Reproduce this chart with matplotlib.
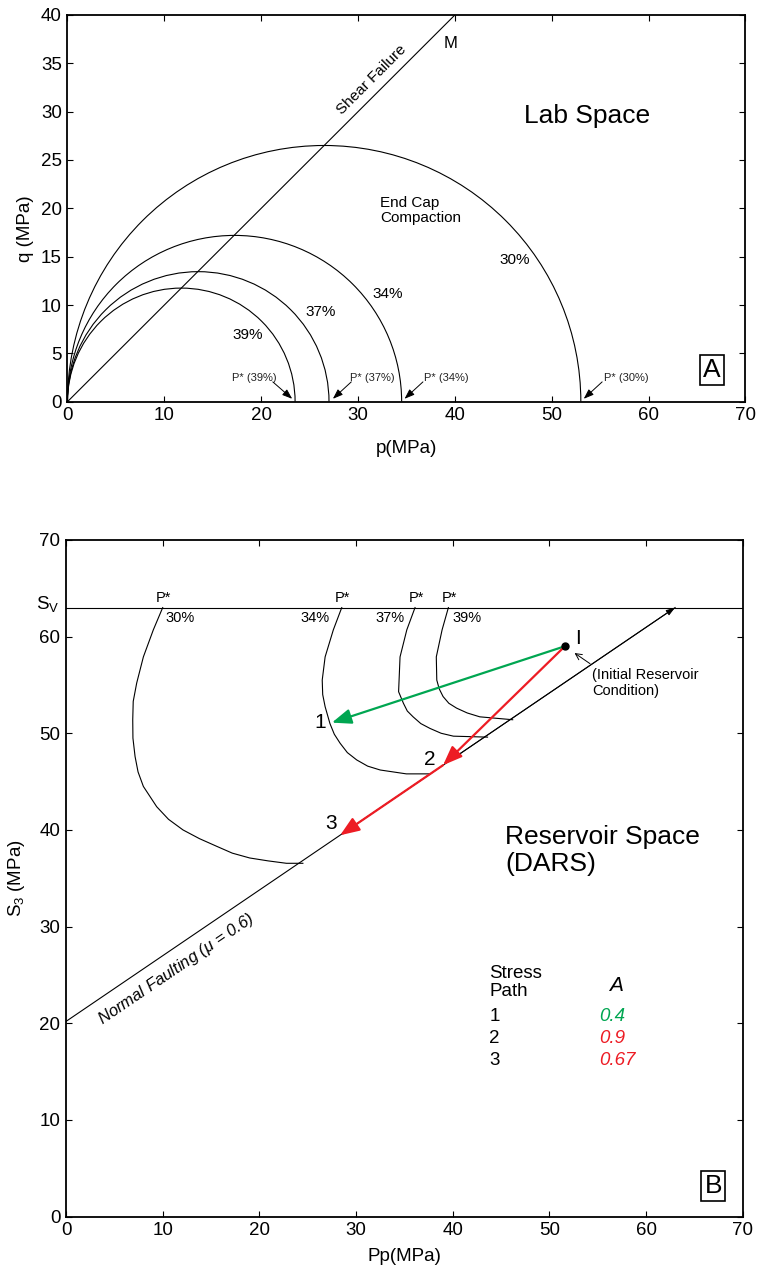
import numpy as np
import matplotlib
matplotlib.use('Agg')
import matplotlib.pyplot as plt
from matplotlib.patches import Arc, FancyArrowPatch

plt.rcParams['font.family'] = ['Liberation Sans', 'DejaVu Sans']
plt.rcParams['mathtext.fontset'] = 'custom'
plt.rcParams['mathtext.rm'] = 'Liberation Sans'
plt.rcParams['mathtext.it'] = 'Liberation Sans:italic'

# --- lab space: end caps (p*, peak q) per porosity, shear failure slope ---
porosity = ['39%', '37%', '34%', '30%']
p_star = [23.5, 27.0, 34.5, 53.0]
q_peak = [11.75, 13.45, 17.2, 26.5]
shear_M = 1.0

# --- reservoir space ---
SV = 63.0
MU = 0.6

cap_30_pp = [10.0, 9.03, 8.0, 7.31, 6.95, 6.9, 6.92, 7.14, 7.45, 8.0, 9.38, 10.6, 12.1,
             13.8, 15.6, 17.2, 19.0, 20.9, 22.8, 24.5]
cap_30_s3 = [63.0, 60.7, 57.9, 55.2, 53.3, 51.4, 49.5, 47.6, 46.0, 44.5, 42.4, 41.1, 40.0,
             39.1, 38.3, 37.6, 37.1, 36.8, 36.55, 36.55]
cap_34_pp = [28.52, 27.65, 26.8, 26.5, 26.55, 26.8, 27.3, 27.75, 28.35, 29.1, 30.07, 31.2,
             32.5, 35.2, 37.7]
cap_34_s3 = [63.0, 60.7, 57.9, 55.5, 54.0, 52.75, 51.0, 49.9, 48.97, 48.0, 47.24, 46.6,
             46.2, 45.8, 45.8]
cap_37_pp = [36.1, 35.25, 34.55, 34.45, 34.4, 34.9, 35.3, 35.9, 36.7, 37.65, 38.8, 40.07, 43.6]
cap_37_s3 = [63.0, 60.7, 57.9, 55.5, 54.3, 53.1, 52.3, 51.7, 51.0, 50.5, 50.0, 49.7, 49.6]
cap_39_pp = [39.55, 38.9, 38.3, 38.35, 38.6, 39.0, 39.6, 40.4, 41.5, 42.8, 46.2]
cap_39_s3 = [63.0, 60.7, 57.9, 55.5, 54.6, 53.8, 53.1, 52.6, 52.1, 51.7, 51.4]

init_pp, init_s3 = 51.6, 59.0
path_ids = ['1', '2', '3']
path_end_pp = [27.5, 39.0, 28.35]
path_end_s3 = [51.1, 46.7, 39.45]
path_A = ['0.4', '0.9', '0.67']
green, red = '#00A651', '#ED1C24'
path_colors = [green, red, red]

TICK_FS = 13.5


def style_axes(ax):
    for s in ax.spines.values():
        s.set_linewidth(1.3)
    ax.tick_params(direction='in', top=True, right=True, length=4.5, width=0.8,
                   labelsize=TICK_FS, pad=4)


def arrow(ax, start, end, color='k', lw=0.8, style='-|>', scale=10):
    ax.add_patch(FancyArrowPatch(start, end, arrowstyle=style, color=color, lw=lw,
                                 mutation_scale=scale, shrinkA=0, shrinkB=0, zorder=4))


fig = plt.figure(figsize=(7.59, 12.68), dpi=100)

### PANEL A ###
axA = fig.add_axes([0.0889, 0.6832, 0.8933, 0.305])
for ps, qp in zip(p_star, q_peak):
    axA.add_patch(Arc((ps / 2, 0), ps, 2 * qp, theta1=0, theta2=180, lw=0.8, color='k'))
p_line = np.array([0, 40])
axA.plot(p_line, shear_M * p_line, color='k', lw=0.8)

axA.text(31.4, 33.3, 'Shear Failure', rotation=45, fontsize=11, ha='center', va='center',
         rotation_mode='anchor')
axA.text(39.6, 37.0, 'M', fontsize=12, ha='center', va='center')
axA.text(53.6, 29.6, 'Lab Space', fontsize=19, ha='center', va='center')
axA.text(32.3, 19.8, 'End Cap\nCompaction', fontsize=11, ha='left', va='center', linespacing=1.1)

pct_pos = [(18.6, 6.9), (26.1, 9.3), (33.1, 11.1), (46.2, 14.7)]
for lab, (x, y) in zip(porosity, pct_pos):
    axA.text(x, y, lab, fontsize=11, ha='center', va='center')

# P* callouts: label centre, arrow tail, arrow tip offset from p*
pstar_text_x = [19.3, 31.5, 39.1, 57.7]
pstar_tail = [(21.2, 2.05), (29.3, 2.05), (36.7, 2.05), (55.2, 2.05)]
tip_dx = [-0.3, 0.4, 0.3, 0.3]
for lab, tx, tail, ps, dx in zip(porosity, pstar_text_x, pstar_tail, p_star, tip_dx):
    axA.text(tx, 2.5, f'P* ({lab})', fontsize=8, ha='center', va='center', color='#222222')
    arrow(axA, tail, (ps + dx, 0.3), lw=0.7, style='-|>,head_length=0.6,head_width=0.22', scale=10)

axA.text(66.5, 3.3, 'A', fontsize=19, ha='center', va='center',
         bbox=dict(boxstyle='square,pad=0.12', fc='white', ec='k', lw=1.2))

axA.set_xlim(0, 70)
axA.set_ylim(0, 40)
axA.set_xticks(np.arange(0, 71, 10))
axA.set_yticks(np.arange(0, 41, 5))
style_axes(axA)
axA.set_xlabel('p(MPa)', fontsize=TICK_FS)
axA.set_ylabel('q (MPa)', fontsize=TICK_FS)
axA.xaxis.set_label_coords(0.5, -0.10)
axA.yaxis.set_label_coords(-0.05, 0.447)

### PANEL B ###
axB = fig.add_axes([0.0870, 0.0405, 0.8916, 0.5337])
for pp, s3 in [(cap_30_pp, cap_30_s3), (cap_34_pp, cap_34_s3),
               (cap_37_pp, cap_37_s3), (cap_39_pp, cap_39_s3)]:
    axB.plot(pp, s3, color='k', lw=0.8)

axB.axhline(SV, color='k', lw=0.8)

# normal faulting limit: S3 = Sv/k + Pp(1 - 1/k)
k = (np.sqrt(MU ** 2 + 1) + MU) ** 2
pp_f = np.array([0, SV])
s3_f = SV / k + pp_f * (1 - 1 / k)
axB.plot(pp_f, s3_f, color='k', lw=0.8)
arrow(axB, (39.9, SV / k + 39.9 * (1 - 1 / k)), (SV, SV), lw=0.7,
      style='<|-|>,head_length=0.6,head_width=0.2', scale=9)

# stress paths
starts = [(init_pp, init_s3), (init_pp, init_s3), (path_end_pp[1], path_end_s3[1])]
for st, ex, ey, col in zip(starts, path_end_pp, path_end_s3, path_colors):
    arrow(axB, st, (ex, ey), color=col, lw=1.6,
          style='-|>,head_length=0.9,head_width=0.35', scale=13)
axB.plot(init_pp, init_s3, 'o', color='k', ms=5, zorder=5)
axB.text(init_pp + 1.4, init_s3 + 0.8, 'I', fontsize=15, ha='center', va='center')

num_pos = [(26.3, 51.1), (37.65, 47.3), (27.4, 40.7)]
for lab, (x, y) in zip(path_ids, num_pos):
    axB.text(x, y, lab, fontsize=15, ha='center', va='center')

arrow(axB, (54.2, 57.2), (52.6, 58.3), lw=0.7, style='->,head_length=0.5,head_width=0.25', scale=9)
axB.text(54.4, 55.2, '(Initial Reservoir\nCondition)', fontsize=10.5, ha='left', va='center',
         linespacing=1.15)

# P* markers on Sv
cap_top = [cap_30_pp[0], cap_34_pp[0], cap_37_pp[0], cap_39_pp[0]]
cap_names = ['30%', '34%', '37%', '39%']
pct_dx = [1.8, -2.8, -2.6, 1.9]
for x, lab, dx in zip(cap_top, cap_names, pct_dx):
    axB.text(x + 0.1, SV + 0.3, 'P*', fontsize=10.5, ha='center', va='bottom')
    axB.text(x + dx, SV - 1.1, lab, fontsize=10.5, ha='center', va='center')

axB.text(-0.7, SV + 0.4, r'$\mathregular{S_V}$', fontsize=TICK_FS, ha='right', va='center',
         clip_on=False)

axB.text(45.4, 37.9, 'Reservoir Space\n(DARS)', fontsize=19, ha='left', va='center',
         linespacing=1.15)
axB.text(11.4, 25.6, r'Normal Faulting ($\mu$ = 0.6)', fontsize=12, style='italic',
         rotation=np.degrees(np.arctan(1 - 1 / k)), rotation_mode='anchor',
         ha='center', va='center')

# stress path table
axB.text(43.8, 24.2, 'Stress\nPath', fontsize=13.5, ha='left', va='center', linespacing=1.05)
axB.text(56.9, 23.9, 'A', fontsize=15, style='italic', ha='center', va='center')
row_y = [20.75, 18.4, 16.1]
for pid, a_val, col, y in zip(path_ids, path_A, path_colors, row_y):
    axB.text(43.8, y, pid, fontsize=13.5, ha='left', va='center')
    axB.text(55.2, y, a_val, fontsize=13.5, style='italic', color=col, ha='left', va='center')

axB.text(66.95, 3.2, 'B', fontsize=19, ha='center', va='center',
         bbox=dict(boxstyle='square,pad=0.12', fc='white', ec='k', lw=1.2))

axB.set_xlim(0, 70)
axB.set_ylim(0, 70)
axB.set_xticks(np.arange(0, 71, 10))
axB.set_yticks(np.arange(0, 71, 10))
style_axes(axB)
axB.set_xlabel('Pp(MPa)', fontsize=TICK_FS)
axB.set_ylabel(r'$\mathregular{S_3}$ (MPa)', fontsize=TICK_FS)
axB.xaxis.set_label_coords(0.5, -0.047)
axB.yaxis.set_label_coords(-0.058, 0.5)

fig.savefig('out.png', dpi=100)
